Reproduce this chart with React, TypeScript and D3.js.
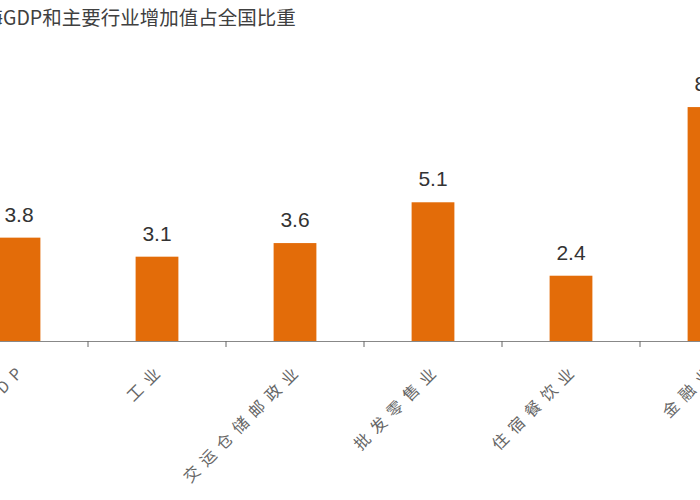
import React from "react";
import * as d3 from "d3";

const title = "上海GDP和主要行业增加值占全国比重";
const categories = ["上海GDP", "工业", "交运仓储邮政业", "批发零售业", "住宿餐饮业", "金融业"];
const values = [3.8, 3.1, 3.6, 5.1, 2.4, 8.6];
const valueLabels = ["3.8", "3.1", "3.6", "5.1", "2.4", "8.6"];

const W = 700;
const H = 500;
const baseY = 341;

export default function App() {
  const x = d3
    .scaleBand<string>()
    .domain(categories)
    .range([-50, 778])
    .paddingInner(0.69)
    .paddingOuter(0.345);
  const y = d3.scaleLinear().domain([0, 10]).range([baseY, baseY - 272]);
  const step = x.step();
  const bw = x.bandwidth();
  const ticks = categories.slice(0, -1).map((c) => (x(c) as number) + bw / 2 + step / 2);

  return (
    <svg
      width={W}
      height={H}
      style={{ position: "absolute", left: 0, top: 0, background: "#fff" }}
    >
      <rect x={0} y={0} width={W} height={H} fill="#fff" />
      <text
        x={-36}
        y={25}
        fontFamily="'Noto Sans CJK SC', sans-serif"
        fontSize={19.5}
        fill="#404040"
      >
        {title}
      </text>
      {categories.map((c, i) => (
        <rect
          key={c}
          x={x(c)}
          y={y(values[i])}
          width={bw}
          height={baseY - y(values[i])}
          fill="#E36C09"
        />
      ))}
      {categories.map((c, i) => (
        <text
          key={c + "v"}
          x={(x(c) as number) + bw / 2}
          y={y(values[i]) - 16}
          textAnchor="middle"
          fontFamily="'Liberation Sans', Arial, sans-serif"
          fontSize={21}
          fill="#333"
        >
          {valueLabels[i]}
        </text>
      ))}
      <line x1={-50} x2={778} y1={baseY + 0.5} y2={baseY + 0.5} stroke="#888" strokeWidth={1} />
      {ticks.map((t, i) => (
        <line key={i} x1={t} x2={t} y1={baseY} y2={baseY + 6} stroke="#666" strokeWidth={1} />
      ))}
      {categories.map((c) => (
        <text
          key={c + "l"}
          transform={`translate(${(x(c) as number) + bw / 2 + 9},370) rotate(-45)`}
          textAnchor="end"
          fontFamily="'Noto Sans CJK SC', sans-serif"
          fontSize={16}
          letterSpacing={7}
          fill="#666"
        >
          {c}
        </text>
      ))}
    </svg>
  );
}
